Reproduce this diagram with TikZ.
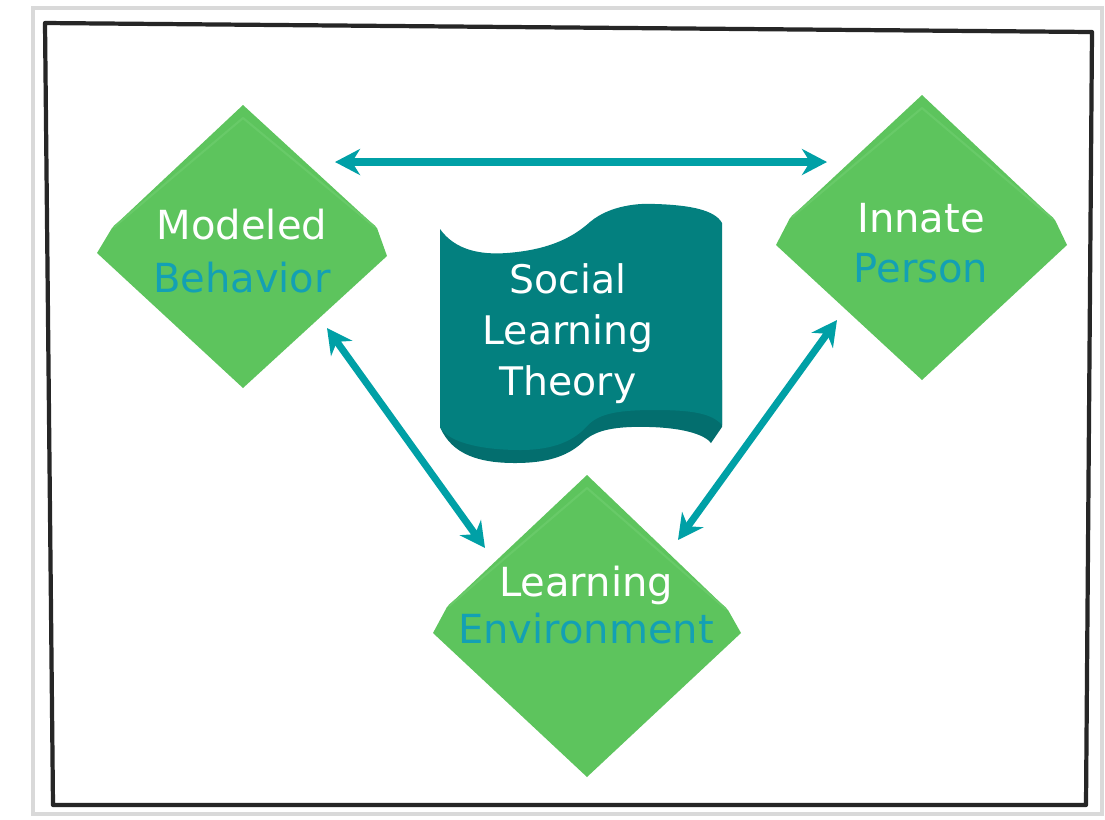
\documentclass[tikz,border=0pt]{standalone}
\usepackage{fontspec}
\setmainfont{DejaVu Sans}
\usepackage{tikz}
\usetikzlibrary{arrows.meta}
\tikzset{>={Stealth[length=2.5mm,width=2.6mm,inset=0.8mm]}}
\usepackage{xcolor}
\definecolor{dgreen}{HTML}{5DC45D}
\definecolor{lgreen}{HTML}{68CA68}
\definecolor{banner}{HTML}{03807F}
\definecolor{bannerdark}{HTML}{036E6E}
\definecolor{arrteal}{HTML}{00A0A6}
\definecolor{txtteal}{HTML}{13A0B4}

\begin{document}
\begin{tikzpicture}[x=1cm,y=-1cm,
    lbl/.style={font=\fontsize{11.4}{14}\selectfont, align=center, text=white, inner sep=0pt, anchor=base},
    conn/.style={<->, line width=2pt, arrteal},
    diam/.style={fill=dgreen},
    edge/.style={lgreen, line width=0.6pt}]
    \useasboundingbox (0,0) rectangle (11.05,8.19);
    \fill[white] (0,0) rectangle (11.05,8.19);
    \draw[line width=1.2pt, black!15] (0.33,0.08) rectangle (11.02,8.14);
    \draw[line width=1.2pt, black!85, line join=round] (0.45,0.23) -- (10.92,0.32) -- (10.86,8.05) -- (0.53,8.05) -- cycle;

    \fill[diam] (2.43,1.05) -- (3.77,2.28) -- (3.87,2.56) -- (2.43,3.88) -- (0.97,2.53) -- (1.12,2.28) -- cycle;
    \draw[edge] (1.14,2.27) -- (2.43,1.18) -- (3.75,2.27);
    \fill[diam] (9.22,0.95) -- (10.55,2.20) -- (10.67,2.45) -- (9.22,3.80) -- (7.76,2.45) -- (7.90,2.18) -- cycle;
    \draw[edge] (7.92,2.17) -- (9.22,1.08) -- (10.53,2.19);
    \fill[diam] (5.87,4.75) -- (7.28,6.10) -- (7.41,6.33) -- (5.87,7.77) -- (4.33,6.33) -- (4.47,6.07) -- cycle;
    \draw[edge] (4.49,6.06) -- (5.87,4.88) -- (7.26,6.09);

    \fill[bannerdark] (4.40,4.27) .. controls (4.52,4.55) and (4.80,4.63) .. (5.15,4.63)
        .. controls (5.50,4.63) and (5.70,4.55) .. (5.85,4.40)
        .. controls (5.97,4.30) and (6.15,4.26) .. (6.50,4.27)
        .. controls (6.85,4.28) and (7.05,4.35) .. (7.11,4.43)
        -- (7.22,4.27) -- (7.22,3.80) -- (4.40,3.80) -- cycle;
    \fill[banner] (4.40,2.29) .. controls (4.55,2.50) and (4.80,2.55) .. (5.07,2.53)
        .. controls (5.45,2.50) and (5.70,2.40) .. (5.90,2.22)
        .. controls (6.10,2.05) and (6.40,2.03) .. (6.55,2.04)
        .. controls (6.90,2.05) and (7.15,2.10) .. (7.22,2.23)
        -- (7.22,4.25)
        .. controls (7.12,4.13) and (6.90,4.10) .. (6.55,4.10)
        .. controls (6.20,4.10) and (6.00,4.13) .. (5.88,4.25)
        .. controls (5.75,4.40) and (5.55,4.50) .. (5.20,4.50)
        .. controls (4.90,4.50) and (4.50,4.45) .. (4.40,4.27) -- cycle;

    \coordinate (mb-e) at (3.35,1.62);
    \coordinate (ip-w) at (8.27,1.62);
    \coordinate (mb-s) at (3.27,3.28);
    \coordinate (le-nw) at (4.85,5.48);
    \coordinate (ip-s) at (8.37,3.20);
    \coordinate (le-ne) at (6.78,5.40);
    \draw[conn] (mb-e) -- (ip-w);
    \draw[conn] (mb-s) -- (le-nw);
    \draw[conn] (ip-s) -- (le-ne);

    \node[lbl, font=\fontsize{11.4}{14.8}\selectfont] (modeled) at (2.42,2.92) {Modeled\\\textcolor{txtteal}{Behavior}};
    \node[lbl] (innate) at (9.21,2.82) {Innate\\\textcolor{txtteal}{Person}};
    \node[lbl, font=\fontsize{11.4}{13.2}\selectfont] (environment) at (5.86,6.43) {Learning\\\textcolor{txtteal}{Environment}};
    \node[lbl, font=\fontsize{11.2}{14.5}\selectfont] (theory) at (5.68,3.95) {Social\\Learning\\Theory};
\end{tikzpicture}
\end{document}
